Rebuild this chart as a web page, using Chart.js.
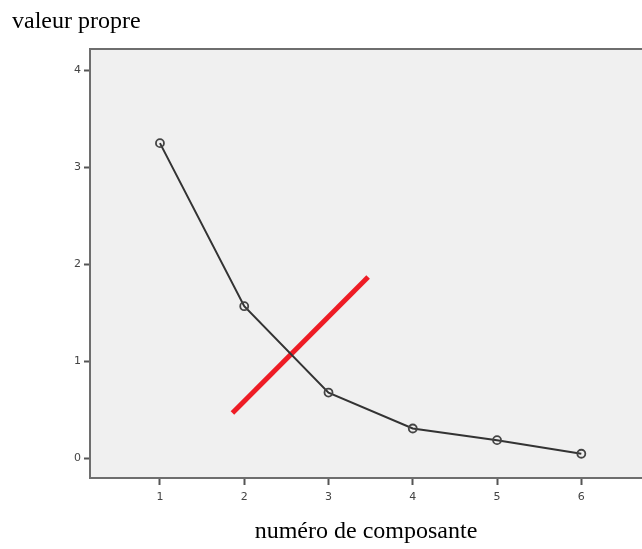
<!DOCTYPE html>
<html>
<head>
<meta charset="utf-8">
<script src="https://cdn.jsdelivr.net/npm/chart.js@4/dist/chart.umd.min.js"></script>
<style>
  body { margin: 0; background: #fff; }
  canvas { display: block; }
</style>
</head>
<body>
<canvas id="screeChart" width="642" height="549"></canvas>
<script>
// Scree plot data
var components = [1, 2, 3, 4, 5, 6];
var eigenvalues = [3.25, 1.57, 0.68, 0.31, 0.19, 0.05];
var yTicks = [0, 1, 2, 3, 4];
// red "elbow" stroke drawn over the plot (x = component, y = eigenvalue)
var markX = [1.86, 3.47];
var markY = [0.47, 1.87];

var screePoints = components.map(function (c, i) {
  return { x: c, y: eigenvalues[i] };
});
var markPoints = markX.map(function (x, i) {
  return { x: x, y: markY[i] };
});

// gray plot background + top frame line
var plotBg = {
  id: "plotBg",
  beforeDraw: function (chart) {
    var a = chart.chartArea;
    var ctx = chart.ctx;
    ctx.save();
    ctx.fillStyle = "#f0f0f0";
    ctx.fillRect(a.left, a.top, a.right - a.left, a.bottom - a.top);
    ctx.strokeStyle = "#6e6e6e";
    ctx.lineWidth = 2;
    ctx.beginPath();
    ctx.moveTo(a.left - 1, a.top);
    ctx.lineTo(a.right, a.top);
    ctx.stroke();
    ctx.restore();
  },
};

var screeCtx = document.getElementById("screeChart").getContext("2d");
var screeChart = new Chart(screeCtx, {
  type: "line",
  data: {
    datasets: [
      {
        label: "valeur propre",
        data: screePoints,
        borderColor: "#333",
        borderWidth: 2,
        pointRadius: 4,
        pointBorderWidth: 1.8,
        pointBorderColor: "#444",
        pointBackgroundColor: "rgba(0,0,0,0)",
        tension: 0,
      },
      {
        label: "coude",
        data: markPoints,
        borderColor: "#ee1c25",
        borderWidth: 5,
        pointRadius: 0,
        borderCapStyle: "butt",
      },
    ],
  },
  options: {
    responsive: false,
    animation: false,
    layout: { autoPadding: false, padding: { left: 12, right: 0, top: 0, bottom: 0 } },
    plugins: {
      legend: { display: false },
      tooltip: { enabled: false },
      title: {
        display: true,
        text: "valeur propre",
        align: "start",
        color: "#000",
        font: { family: "'Liberation Serif', serif", size: 24, weight: "normal" },
        padding: { top: 7.6, bottom: 12.6 },
      },
    },
    scales: {
      x: {
        type: "linear",
        min: 0.17,
        max: 6.72,
        afterBuildTicks: function (scale) {
          scale.ticks = components.map(function (v) { return { value: v }; });
        },
        afterFit: function (scale) { scale.height = 71; },
        grid: {
          drawOnChartArea: false,
          tickLength: 7,
          tickColor: "#555",
          tickWidth: 2,
        },
        border: { display: true, color: "#6e6e6e", width: 2 },
        ticks: {
          padding: 6,
          color: "#444",
          font: { family: "'DejaVu Sans', sans-serif", size: 11 },
          maxRotation: 0,
        },
        title: {
          display: true,
          text: "numéro de composante",
          color: "#000",
          font: { family: "'Liberation Serif', serif", size: 24, weight: "normal" },
          padding: { top: 0, bottom: 2.5 },
        },
      },
      y: {
        type: "linear",
        min: -0.2,
        max: 4.22,
        afterBuildTicks: function (scale) {
          scale.ticks = yTicks.map(function (v) { return { value: v }; });
        },
        afterFit: function (scale) { scale.width = 78; },
        grid: {
          drawOnChartArea: false,
          tickLength: 6,
          tickColor: "#555",
          tickWidth: 2,
        },
        border: { display: true, color: "#6e6e6e", width: 2 },
        ticks: {
          padding: 3,
          color: "#444",
          font: { family: "'DejaVu Sans', sans-serif", size: 11 },
        },
      },
    },
  },
  plugins: [plotBg],
});
</script>
</body>
</html>
